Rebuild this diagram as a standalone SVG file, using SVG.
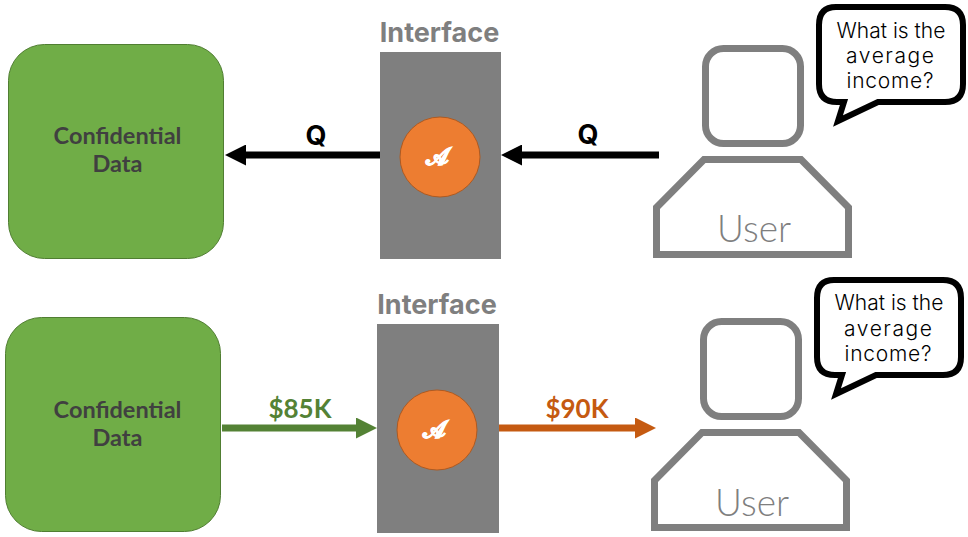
<svg xmlns="http://www.w3.org/2000/svg" width="968" height="537" viewBox="0 0 968 537">
<style>
text{text-anchor:middle}
.data{fill:#70AD47;stroke:#507E32;stroke-width:1}
.dt{font:bold 23.5px Lato,"Liberation Sans",sans-serif;fill:#404040}
.iface{fill:#7F7F7F}
.it{font:bold 27px "Inter","Liberation Sans",sans-serif;fill:#7F7F7F}
.alg{fill:#ED7D31;stroke:#AE5A21;stroke-width:1}
.at{font:bold 24px "DejaVu Serif",serif;fill:#fff;stroke:#fff;stroke-width:.9}
.person{fill:none;stroke:#7F7F7F;stroke-width:7}
.ut{font:300 37px "Lato","Noto Sans",sans-serif;fill:#7F7F7F}
.bubble{fill:#fff;stroke:#000;stroke-width:6;stroke-linejoin:miter}
.bt{font:300 21px "Inter","Liberation Sans",sans-serif;fill:#000}
.q{font:bold 27px "Inter","Liberation Sans",sans-serif;fill:#000}
.val{font:bold 26px Lato,"Liberation Sans",sans-serif}
</style>
<defs>
<marker id="hb" markerUnits="userSpaceOnUse" markerWidth="21" markerHeight="21" refX="11" refY="10.500" orient="auto"><path d="M0 0L21 10.500L0 21Z" fill="#000"/></marker>
<marker id="hg" markerUnits="userSpaceOnUse" markerWidth="21" markerHeight="21" refX="11" refY="10.500" orient="auto"><path d="M0 0L21 10.500L0 21Z" fill="#548235"/></marker>
<marker id="ho" markerUnits="userSpaceOnUse" markerWidth="21" markerHeight="21" refX="11" refY="10.500" orient="auto"><path d="M0 0L21 10.500L0 21Z" fill="#C55A11"/></marker>
</defs>

<g id="data-top"><rect class="data" x="8.500" y="44.500" width="215" height="214" rx="36"/><text class="dt" x="117.500" y="144">Confidential</text><text class="dt" x="117.500" y="172">Data</text></g>
<g id="interface-top"><text class="it" x="439.500" y="41.500">Interface</text><rect class="iface" x="380" y="52" width="121" height="207"/></g>
<g id="algorithm-top"><circle class="alg" cx="440" cy="157" r="40"/><text class="at" x="437" y="165">𝒜</text></g>
<g id="user-top"><rect class="person" x="705.500" y="48.500" width="95" height="95" rx="18"/><path class="person" d="M656.500 254.500V207.500L704 159.500H801L848.500 207.500V254.500Z"/><text class="ut" x="754" y="242">User</text></g>
<g id="bubble-top"><path class="bubble" d="M836 7H945Q963 7 963 25V84Q963 102 945 102H878L838 121L844 102H837Q819 102 819 84V25Q819 7 836 7Z"/><text class="bt" x="891" y="38">What is the</text><text class="bt" x="890" y="63" textLength="88" lengthAdjust="spacing">average</text><text class="bt" x="890" y="88" textLength="87" lengthAdjust="spacing">income?</text></g>

<g id="data-bottom"><rect class="data" x="5.500" y="317.500" width="215" height="214" rx="36"/><text class="dt" x="117.500" y="418">Confidential</text><text class="dt" x="117.500" y="446">Data</text></g>
<g id="interface-bottom"><text class="it" x="437" y="313.500">Interface</text><rect class="iface" x="377" y="324" width="122" height="209"/></g>
<g id="algorithm-bottom"><circle class="alg" cx="437" cy="430" r="40"/><text class="at" x="434" y="438">𝒜</text></g>
<g id="user-bottom"><rect class="person" x="703.500" y="321.500" width="95" height="95" rx="18"/><path class="person" d="M654.500 527.500V480.500L702 432.500H799L846.500 480.500V527.500Z"/><text class="ut" x="752" y="516">User</text></g>
<g id="bubble-bottom"><path class="bubble" d="M834 280H943Q961 280 961 298V357Q961 375 943 375H876L836 394L842 375H835Q817 375 817 357V298Q817 280 834 280Z"/><text class="bt" x="889" y="310">What is the</text><text class="bt" x="888" y="336" textLength="88" lengthAdjust="spacing">average</text><text class="bt" x="888" y="361" textLength="87" lengthAdjust="spacing">income?</text></g>

<g id="connectors" fill="none" stroke-width="7">
<path d="M380 155H235" stroke="#000" marker-end="url(#hb)"/>
<path d="M659 155H511" stroke="#000" marker-end="url(#hb)"/>
<path d="M222 428H367" stroke="#548235" marker-end="url(#hg)"/>
<path d="M499 428H646" stroke="#C55A11" marker-end="url(#ho)"/>
</g>
<g id="labels">
<text class="q" x="316" y="145">Q</text><text class="q" x="588" y="144">Q</text>
<text class="val" x="300" y="418" fill="#548235">$85K</text><text class="val" x="577" y="418" fill="#C55A11">$90K</text>
</g>
</svg>
